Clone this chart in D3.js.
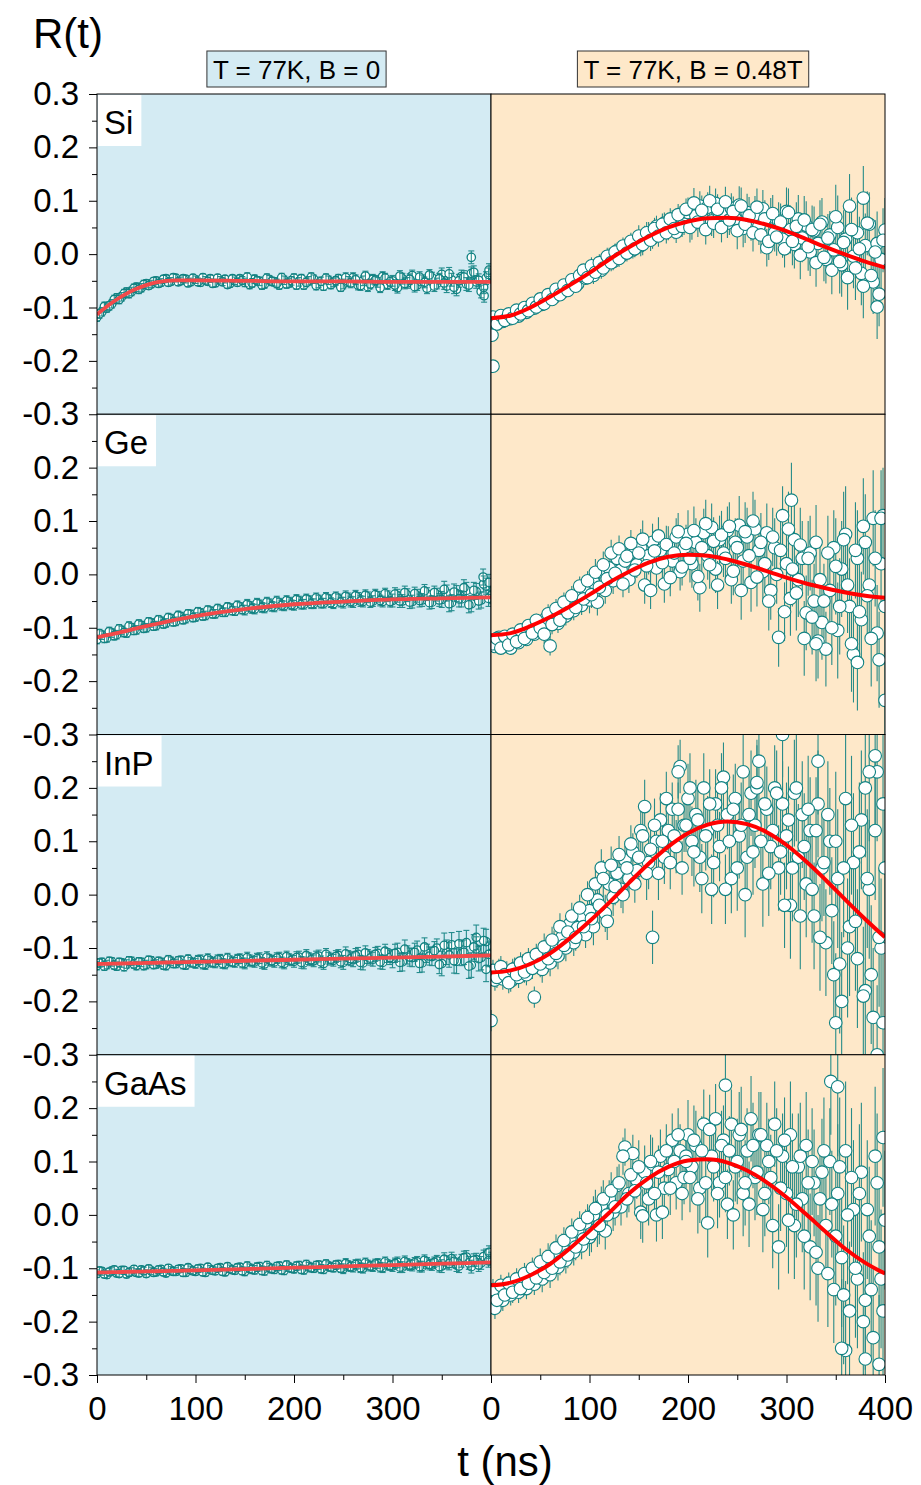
<!DOCTYPE html>
<html><head><meta charset="utf-8">
<script src="https://cdn.jsdelivr.net/npm/d3@7"></script>
<style>
body{margin:0;background:#fff}
text{font-family:"Liberation Sans",Arial,sans-serif;fill:#000}
</style>
</head><body>
<svg id="c" width="921" height="1485"></svg>
<script>
// ---------------- DATA ----------------
const samples = ["Si", "Ge", "InP", "GaAs"];
const panelTitles = ["T = 77K, B = 0", "T = 77K, B = 0.48T"];
const yTickVals = [0.3, 0.2, 0.1, 0.0, -0.1, -0.2, -0.3];
const xTickLeft = [0, 100, 200, 300];
const xTickRight = [0, 100, 200, 300, 400];

// time sampling of the data points (ns); second series is offset by half a step
const tStepLeft = 5;   // B = 0 panels
const tStepRight = 4;  // B = 0.48T panels

// ----- B = 0 (left) measured R(t), every 5 ns from 0 to 400 -----
const siA = [
-0.118,-0.108,-0.101,-0.093,-0.082,-0.080,-0.071,-0.070,-0.062,-0.063,
-0.055,-0.056,-0.050,-0.053,-0.046,-0.051,-0.045,-0.050,-0.047,-0.052,
-0.048,-0.053,-0.049,-0.046,-0.054,-0.049,-0.047,-0.055,-0.050,-0.046,
-0.053,-0.057,-0.047,-0.051,-0.056,-0.048,-0.052,-0.058,-0.049,-0.054,
-0.045,-0.052,-0.058,-0.050,-0.047,-0.055,-0.060,-0.049,-0.053,-0.046,
-0.056,-0.051,-0.044,-0.058,-0.050,-0.061,-0.047,-0.053,-0.042,-0.057,
-0.050,-0.063,-0.046,-0.054,-0.040,-0.058,-0.049,-0.064,-0.044,-0.055,
-0.038,-0.060,-0.048,-0.066,-0.042,-0.056,-0.036,-0.052,-0.070,-0.045,-0.040];
const siA2 = [
-0.112,-0.098,-0.097,-0.085,-0.085,-0.074,-0.074,-0.064,-0.066,-0.057,
-0.059,-0.051,-0.055,-0.047,-0.053,-0.044,-0.052,-0.046,-0.054,-0.045,
-0.052,-0.044,-0.051,-0.055,-0.045,-0.052,-0.057,-0.046,-0.053,-0.049,
-0.043,-0.054,-0.050,-0.058,-0.045,-0.051,-0.055,-0.044,-0.056,-0.050,
-0.058,-0.046,-0.053,-0.043,-0.059,-0.051,-0.045,-0.057,-0.050,-0.062,
-0.044,-0.054,-0.048,-0.059,-0.041,-0.056,-0.049,-0.063,-0.045,-0.052,
-0.058,-0.041,-0.055,-0.047,-0.061,-0.043,-0.053,-0.039,-0.060,-0.046,
-0.054,-0.037,-0.062,-0.050,-0.043,-0.058,-0.034,-0.049,-0.062,-0.038];
const geA = [
-0.122,-0.114,-0.119,-0.110,-0.113,-0.105,-0.110,-0.100,-0.104,-0.096,
-0.100,-0.091,-0.096,-0.088,-0.091,-0.083,-0.088,-0.079,-0.083,-0.075,
-0.080,-0.072,-0.077,-0.069,-0.074,-0.067,-0.071,-0.063,-0.069,-0.061,
-0.067,-0.060,-0.065,-0.057,-0.063,-0.055,-0.061,-0.054,-0.059,-0.052,
-0.058,-0.050,-0.056,-0.049,-0.055,-0.048,-0.054,-0.047,-0.055,-0.046,
-0.053,-0.045,-0.052,-0.044,-0.051,-0.043,-0.050,-0.042,-0.051,-0.041,
-0.049,-0.040,-0.050,-0.039,-0.051,-0.040,-0.048,-0.037,-0.052,-0.038,
-0.047,-0.035,-0.053,-0.036,-0.046,-0.030,-0.055,-0.032,-0.048,-0.022,-0.040];
const geA2 = [
-0.111,-0.120,-0.107,-0.115,-0.102,-0.109,-0.097,-0.105,-0.093,-0.101,
-0.089,-0.097,-0.085,-0.093,-0.081,-0.089,-0.077,-0.085,-0.074,-0.081,
-0.070,-0.078,-0.067,-0.074,-0.064,-0.071,-0.061,-0.068,-0.058,-0.066,
-0.056,-0.064,-0.054,-0.062,-0.052,-0.060,-0.050,-0.058,-0.049,-0.057,
-0.047,-0.056,-0.046,-0.055,-0.044,-0.054,-0.043,-0.053,-0.042,-0.052,
-0.041,-0.051,-0.040,-0.050,-0.039,-0.052,-0.038,-0.049,-0.036,-0.051,
-0.037,-0.050,-0.034,-0.052,-0.036,-0.049,-0.031,-0.053,-0.034,-0.048,
-0.028,-0.055,-0.033,-0.046,-0.025,-0.057,-0.030,-0.050,-0.018,-0.045];
const inpA = [
-0.133,-0.127,-0.131,-0.126,-0.134,-0.128,-0.130,-0.125,-0.133,-0.127,
-0.131,-0.124,-0.130,-0.127,-0.133,-0.125,-0.129,-0.123,-0.132,-0.126,
-0.129,-0.122,-0.131,-0.125,-0.128,-0.121,-0.130,-0.124,-0.127,-0.120,
-0.129,-0.123,-0.126,-0.119,-0.130,-0.122,-0.126,-0.118,-0.129,-0.121,
-0.125,-0.117,-0.128,-0.120,-0.124,-0.115,-0.129,-0.119,-0.123,-0.114,
-0.127,-0.118,-0.122,-0.112,-0.128,-0.116,-0.121,-0.110,-0.127,-0.114,
-0.120,-0.108,-0.126,-0.113,-0.118,-0.104,-0.128,-0.110,-0.116,-0.100,
-0.129,-0.108,-0.094,-0.125,-0.110,-0.090,-0.132,-0.102,-0.118,-0.088,-0.110];
const inpA2 = [
-0.128,-0.134,-0.125,-0.132,-0.127,-0.135,-0.124,-0.130,-0.126,-0.133,
-0.123,-0.131,-0.125,-0.132,-0.122,-0.129,-0.124,-0.131,-0.121,-0.128,
-0.123,-0.130,-0.120,-0.127,-0.122,-0.129,-0.119,-0.126,-0.121,-0.128,
-0.118,-0.125,-0.120,-0.128,-0.117,-0.124,-0.119,-0.127,-0.116,-0.123,
-0.118,-0.127,-0.114,-0.122,-0.117,-0.126,-0.112,-0.121,-0.116,-0.126,
-0.111,-0.120,-0.114,-0.127,-0.109,-0.119,-0.112,-0.126,-0.106,-0.118,
-0.110,-0.127,-0.102,-0.117,-0.108,-0.129,-0.098,-0.115,-0.105,-0.131,
-0.095,-0.113,-0.124,-0.092,-0.108,-0.134,-0.098,-0.120,-0.086,-0.112];
const gaasA = [
-0.110,-0.106,-0.112,-0.105,-0.109,-0.104,-0.111,-0.106,-0.108,-0.103,
-0.110,-0.105,-0.107,-0.102,-0.109,-0.104,-0.106,-0.101,-0.108,-0.103,
-0.106,-0.100,-0.108,-0.102,-0.105,-0.099,-0.107,-0.101,-0.104,-0.098,
-0.106,-0.100,-0.103,-0.097,-0.105,-0.099,-0.102,-0.096,-0.104,-0.098,
-0.101,-0.095,-0.103,-0.097,-0.100,-0.094,-0.102,-0.096,-0.099,-0.093,
-0.101,-0.095,-0.098,-0.092,-0.100,-0.094,-0.097,-0.091,-0.099,-0.093,
-0.096,-0.089,-0.098,-0.092,-0.095,-0.088,-0.097,-0.090,-0.094,-0.086,
-0.096,-0.089,-0.082,-0.094,-0.086,-0.079,-0.097,-0.084,-0.090,-0.076,-0.082];
const gaasA2 = [
-0.105,-0.111,-0.107,-0.103,-0.110,-0.104,-0.108,-0.102,-0.109,-0.105,
-0.101,-0.108,-0.103,-0.107,-0.100,-0.106,-0.102,-0.108,-0.099,-0.105,
-0.101,-0.107,-0.098,-0.104,-0.100,-0.106,-0.097,-0.103,-0.099,-0.105,
-0.096,-0.102,-0.098,-0.104,-0.095,-0.101,-0.097,-0.103,-0.094,-0.100,
-0.096,-0.102,-0.093,-0.099,-0.095,-0.101,-0.092,-0.098,-0.094,-0.100,
-0.091,-0.097,-0.093,-0.099,-0.090,-0.096,-0.092,-0.098,-0.088,-0.095,
-0.091,-0.098,-0.087,-0.094,-0.090,-0.097,-0.085,-0.093,-0.089,-0.097,
-0.083,-0.091,-0.087,-0.096,-0.080,-0.090,-0.085,-0.094,-0.078,-0.086];

// ----- B = 0.48T (right) measured R(t), every 4 ns from 0 to 400 -----
const siB = [
-0.125,-0.128,-0.122,-0.126,-0.118,-0.121,-0.113,-0.116,-0.104,-0.109,
-0.097,-0.101,-0.090,-0.094,-0.086,-0.077,-0.081,-0.068,-0.072,-0.060,
-0.063,-0.050,-0.056,-0.038,-0.045,-0.032,-0.040,-0.021,-0.030,-0.012,
-0.004,-0.014,0.006,-0.004,0.012,0.018,0.008,0.025,0.016,0.033,
0.040,0.030,0.052,0.044,0.058,0.046,0.062,0.041,0.070,0.056,
0.078,0.055,0.072,0.090,0.064,0.088,0.062,0.095,0.074,0.080,
0.058,0.086,0.066,0.092,0.048,0.078,0.060,0.074,0.052,0.085,
0.012,0.070,0.040,0.062,0.028,0.080,0.046,0.018,0.066,0.030,
0.054,0.004,0.044,0.020,0.060,-0.010,0.036,0.008,0.050,-0.020,
0.028,0.090,-0.004,0.040,-0.036,0.016,0.056,-0.052,0.020,-0.010,0.045];
const siB2 = [
-0.118,-0.131,-0.115,-0.124,-0.112,-0.120,-0.105,-0.112,-0.100,-0.106,
-0.092,-0.099,-0.084,-0.093,-0.076,-0.085,-0.066,-0.076,-0.058,-0.068,
-0.048,-0.060,-0.040,-0.030,-0.044,-0.022,-0.034,-0.016,-0.026,-0.004,
-0.016,0.004,-0.008,0.015,0.002,0.024,0.010,0.034,0.018,0.040,
0.026,0.048,0.034,0.056,0.040,0.066,0.048,0.074,0.052,0.084,
0.050,0.096,0.060,0.082,0.046,0.100,0.058,0.084,0.050,0.098,
0.064,0.080,0.044,0.090,0.056,0.072,0.040,0.088,0.036,0.066,
0.024,0.076,0.032,0.060,0.010,0.078,0.024,0.052,-0.002,0.064,
0.014,0.046,-0.016,0.056,-0.006,0.030,-0.030,0.070,-0.014,0.022,
-0.044,0.046,-0.026,0.010,-0.060,0.058,-0.040,0.004,-0.075,0.026];
const geB = [
-0.125,-0.135,-0.118,-0.130,-0.122,-0.138,-0.115,-0.128,-0.108,-0.122,
-0.100,-0.112,-0.090,-0.105,-0.082,-0.134,-0.075,-0.092,-0.062,-0.078,
-0.050,-0.068,-0.040,-0.058,-0.030,-0.048,-0.015,-0.052,0.005,-0.030,
0.012,-0.012,0.030,0.008,0.025,-0.010,0.042,0.018,0.050,-0.020,
0.035,0.060,0.012,0.045,-0.018,0.055,0.025,0.070,0.005,0.048,
0.075,0.020,0.060,-0.025,0.078,0.035,0.088,0.010,0.065,0.040,
0.082,-0.010,0.060,0.092,0.025,0.070,-0.015,0.085,0.045,0.005,
0.078,-0.030,0.050,-0.118,0.110,0.020,-0.045,0.065,-0.010,0.030,
-0.072,0.040,-0.050,-0.125,-0.090,-0.140,-0.030,0.050,-0.105,0.010,
0.075,-0.060,-0.150,0.030,-0.085,0.060,-0.020,0.105,-0.110,0.020,-0.060];
const geB2 = [
-0.130,-0.120,-0.138,-0.116,-0.132,-0.112,-0.126,-0.104,-0.120,-0.096,
-0.110,-0.086,-0.100,-0.112,-0.074,-0.094,-0.064,-0.086,-0.052,-0.072,
-0.040,-0.062,-0.022,-0.046,-0.012,-0.038,0.004,-0.024,0.018,-0.008,
0.040,0.002,0.048,-0.018,0.034,0.058,0.008,0.040,0.066,0.016,
-0.030,0.044,0.072,0.022,0.056,-0.006,0.040,0.080,0.014,0.058,
0.030,0.082,-0.004,0.050,0.095,0.018,0.062,-0.020,0.074,0.030,
0.090,0.006,0.050,-0.030,0.080,0.035,0.100,-0.005,0.060,0.020,
-0.050,0.070,0.000,0.045,-0.070,0.085,0.010,-0.035,0.055,-0.120,
0.030,-0.080,0.060,-0.010,-0.050,0.040,-0.100,0.015,-0.060,0.065,
-0.020,-0.130,0.045,-0.070,0.090,-0.040,-0.120,0.030,-0.160,0.110];
const inpB = [
-0.150,-0.160,-0.140,-0.158,-0.145,-0.162,-0.138,-0.155,-0.132,-0.150,
-0.125,-0.192,-0.118,-0.140,-0.105,-0.128,-0.092,-0.115,-0.080,-0.100,
-0.055,-0.090,-0.062,-0.040,-0.075,-0.030,-0.060,-0.010,0.050,-0.035,
0.020,-0.005,0.040,0.010,0.065,0.030,0.080,0.045,0.120,0.165,
0.060,-0.080,0.100,0.140,0.070,0.120,0.160,0.090,0.240,0.130,
0.180,0.100,0.150,0.070,0.200,0.120,0.010,0.170,0.090,0.220,
0.150,0.030,0.180,0.110,0.230,0.070,0.190,0.130,0.250,0.020,
0.160,0.090,0.200,0.050,0.170,0.110,-0.020,0.190,0.070,0.150,
0.020,0.120,-0.040,0.170,0.050,-0.090,0.100,-0.150,0.030,-0.200,
0.180,-0.060,0.060,-0.120,0.140,-0.180,0.010,-0.230,0.230,-0.100,0.050];
const inpB2 = [
-0.142,-0.155,-0.135,-0.150,-0.165,-0.140,-0.150,-0.128,-0.145,-0.120,
-0.138,-0.112,-0.130,-0.098,-0.120,-0.085,-0.110,-0.060,-0.095,-0.070,
-0.040,-0.080,-0.025,-0.060,0.000,-0.045,0.020,-0.020,0.030,-0.050,
0.055,0.015,0.075,0.000,0.050,0.095,0.020,0.070,0.110,0.040,
0.085,0.130,0.040,0.100,0.180,0.060,0.110,0.160,0.050,0.130,
0.200,0.080,0.140,0.030,0.110,0.170,0.060,0.130,0.200,0.010,
0.100,0.160,0.050,0.130,0.000,0.150,0.080,0.200,0.100,0.170,
0.040,0.120,0.190,0.080,-0.020,0.140,0.050,0.200,-0.040,0.090,
0.160,0.010,0.120,-0.080,0.060,0.150,-0.030,0.100,-0.130,0.050,
-0.100,0.130,-0.050,0.080,-0.190,0.030,-0.150,0.120,-0.080,0.170];
const gaasB = [
-0.150,-0.175,-0.140,-0.160,-0.135,-0.150,-0.128,-0.145,-0.120,-0.138,
-0.112,-0.130,-0.100,-0.120,-0.090,-0.112,-0.075,-0.098,-0.060,-0.085,
-0.045,-0.070,-0.030,-0.058,-0.015,-0.042,0.000,-0.025,0.018,-0.030,
0.030,0.005,0.055,0.015,0.127,0.040,0.115,0.065,0.005,0.080,
0.030,0.095,0.000,0.110,0.050,0.085,0.140,0.060,0.120,0.070,
0.150,0.090,0.130,0.050,0.170,-0.015,0.110,0.180,0.060,0.140,
0.020,0.170,0.090,0.150,0.040,0.120,0.180,0.070,0.150,0.010,
0.130,0.070,0.170,-0.060,0.110,0.040,0.150,-0.020,0.090,0.030,
0.130,-0.060,0.060,-0.100,0.080,-0.020,0.100,-0.140,0.040,-0.080,
0.120,-0.180,0.010,-0.120,0.080,-0.160,-0.040,-0.230,0.060,-0.120,-0.010];
const gaasB2 = [
-0.140,-0.160,-0.132,-0.150,-0.128,-0.145,-0.120,-0.138,-0.110,-0.128,
-0.100,-0.118,-0.088,-0.108,-0.078,-0.100,-0.062,-0.088,-0.048,-0.075,
-0.032,-0.060,-0.018,-0.045,-0.005,-0.035,0.012,-0.020,0.030,0.000,
0.045,0.015,0.060,0.110,0.030,0.075,0.045,0.090,-0.002,0.060,
0.100,0.040,0.080,0.005,0.120,0.050,0.100,0.150,0.040,0.110,
0.070,0.140,0.030,0.120,0.060,0.160,0.090,0.040,0.130,0.070,
0.120,0.000,0.100,0.160,0.060,0.020,0.130,0.080,0.150,0.040,
0.100,-0.020,0.120,0.050,0.140,-0.010,0.090,0.020,0.110,-0.040,
0.060,0.100,-0.070,0.030,0.120,-0.110,0.020,-0.040,0.090,-0.150,
0.000,0.070,-0.100,0.040,-0.200,0.010,-0.140,0.110,-0.060,-0.180];

// extra scattered points [t, R]
const siAExtra = [[380,-0.006],[393,-0.078],[398,-0.030]];
const geAExtra = [[392,-0.005],[398,-0.015]];
const inpAExtra = [[385,-0.080],[395,-0.140]];
const gaasAExtra = [[398,-0.070]];
const siBExtra = [[2,-0.210],[1,-0.152],[378,0.105],[392,-0.099]];
const geBExtra = [[400,-0.236],[396,0.105],[305,0.139],[330,-0.130],[372,-0.165]];
const inpBExtra = [[0,-0.236],[190,0.230],[296,0.300],[332,0.250],[350,-0.240],[392,-0.300],[398,-0.240],[390,0.260],[384,0.230],[270,0.210],[380,0.200]];
const gaasBExtra = [[238,0.243],[345,0.250],[352,0.240],[360,-0.254],[356,-0.250],[380,-0.270],[394,-0.280],[398,0.145],[198,0.100]];

// error bar half-widths per 50 ns bin
const siAErr = [0.008,0.007,0.007,0.008,0.008,0.009,0.010,0.012];
const geAErr = [0.008,0.008,0.008,0.009,0.009,0.010,0.012,0.015];
const inpAErr = [0.008,0.008,0.009,0.010,0.011,0.013,0.017,0.023];
const gaasAErr = [0.007,0.007,0.007,0.008,0.008,0.009,0.010,0.012];
const siBErr = [0.008,0.012,0.016,0.020,0.028,0.035,0.045,0.060];
const geBErr = [0.012,0.018,0.025,0.035,0.045,0.055,0.070,0.090];
const inpBErr = [0.020,0.025,0.035,0.050,0.065,0.080,0.100,0.130];
const gaasBErr = [0.020,0.025,0.035,0.050,0.065,0.080,0.100,0.130];

// fit curves (red)
const fitTLeft = [0,10,20,30,40,50,60,70,80,100,150,200,250,300,350,400];
const siFitA = [-0.113,-0.098,-0.085,-0.074,-0.065,-0.058,-0.053,-0.050,-0.049,-0.049,-0.050,-0.051,-0.051,-0.052,-0.052,-0.052];
const geFitA = [-0.118,-0.114,-0.110,-0.106,-0.101,-0.097,-0.093,-0.089,-0.085,-0.078,-0.065,-0.056,-0.051,-0.047,-0.045,-0.043];
const inpFitA = [-0.130,-0.1296,-0.1292,-0.1288,-0.1284,-0.128,-0.1276,-0.1272,-0.1268,-0.126,-0.124,-0.122,-0.120,-0.118,-0.116,-0.114];
const gaasFitA = [-0.108,-0.1076,-0.1072,-0.1068,-0.1064,-0.106,-0.1056,-0.1052,-0.1048,-0.104,-0.1015,-0.099,-0.0965,-0.094,-0.0915,-0.089];
const fitTRight = [0,20,40,60,80,100,120,140,160,180,200,220,240,260,280,300,320,340,360,380,400];
const siFitB = [-0.120,-0.115,-0.100,-0.080,-0.058,-0.035,-0.010,0.013,0.033,0.050,0.061,0.067,0.068,0.064,0.055,0.043,0.028,0.013,-0.001,-0.014,-0.025];
const geFitB = [-0.114,-0.110,-0.097,-0.080,-0.060,-0.038,-0.015,0.005,0.022,0.033,0.037,0.035,0.028,0.018,0.006,-0.006,-0.017,-0.026,-0.034,-0.040,-0.044];
const inpFitB = [-0.146,-0.142,-0.130,-0.110,-0.082,-0.050,-0.015,0.022,0.058,0.090,0.115,0.131,0.137,0.132,0.117,0.093,0.062,0.027,-0.010,-0.046,-0.080];
const gaasFitB = [-0.132,-0.127,-0.113,-0.092,-0.063,-0.030,0.004,0.040,0.069,0.090,0.102,0.104,0.098,0.083,0.061,0.033,0.001,-0.032,-0.064,-0.090,-0.110];

// ---------------- DRAWING ----------------
const svg = d3.select('#c');
const X0 = 97, XM = 491, X1 = 885, Y0 = 94, Y1 = 1375;
const rowH = (Y1 - Y0) / 4;
const BG_L = "#d4ebf3", BG_R = "#fee8c9", TEAL = "#118282";
const FONT = '"Liberation Sans",Arial,sans-serif';

const xL = d3.scaleLinear().domain([0, 400]).range([X0, XM]);
const xR = d3.scaleLinear().domain([0, 400]).range([XM, X1]);

const leftSets = [
  {v: siA, v2: siA2, extra: siAExtra, err: siAErr, fit: siFitA},
  {v: geA, v2: geA2, extra: geAExtra, err: geAErr, fit: geFitA},
  {v: inpA, v2: inpA2, extra: inpAExtra, err: inpAErr, fit: inpFitA},
  {v: gaasA, v2: gaasA2, extra: gaasAExtra, err: gaasAErr, fit: gaasFitA}];
const rightSets = [
  {v: siB, v2: siB2, extra: siBExtra, err: siBErr, fit: siFitB},
  {v: geB, v2: geB2, extra: geBExtra, err: geBErr, fit: geFitB},
  {v: inpB, v2: inpB2, extra: inpBExtra, err: inpBErr, fit: inpFitB},
  {v: gaasB, v2: gaasB2, extra: gaasBExtra, err: gaasBErr, fit: gaasFitB}];

const fmt = v => (Math.abs(v) < 1e-9 ? "0.0" : v.toFixed(1));

function drawPanel(row, side) {
  const top = Y0 + row * rowH;
  const y = d3.scaleLinear().domain([-0.3, 0.3]).range([top + rowH, top]);
  const x = side === 0 ? xL : xR;
  const set = side === 0 ? leftSets[row] : rightSets[row];
  const step = side === 0 ? tStepLeft : tStepRight;
  const r = side === 0 ? 4.2 : 6.3;
  const px0 = x.range()[0], px1 = x.range()[1];
  const id = `clip${row}_${side}`;
  svg.append("clipPath").attr("id", id).append("rect")
    .attr("x", px0).attr("y", top).attr("width", px1 - px0).attr("height", rowH);
  svg.append("rect").attr("x", px0).attr("y", top).attr("width", px1 - px0).attr("height", rowH)
    .attr("fill", side === 0 ? BG_L : BG_R);

  const pts = set.v.map((v, i) => [i * step, v])
    .concat(set.v2.map((v, i) => [i * step + step / 2, v]))
    .concat(set.extra);
  const errOf = t => set.err[Math.min(set.err.length - 1, Math.floor(t / 50))];
  const g = svg.append("g").attr("clip-path", `url(#${id})`);

  const drawErr = () => {
    const eb = g.append("g").attr("stroke", TEAL).attr("stroke-width", 1.1).attr("opacity", 0.9);
    pts.forEach(([t, v]) => {
      const e = errOf(t);
      eb.append("line").attr("x1", x(t)).attr("x2", x(t)).attr("y1", y(v - e)).attr("y2", y(v + e));
      if (side === 0) {
        eb.append("line").attr("x1", x(t) - 3).attr("x2", x(t) + 3).attr("y1", y(v - e)).attr("y2", y(v - e));
        eb.append("line").attr("x1", x(t) - 3).attr("x2", x(t) + 3).attr("y1", y(v + e)).attr("y2", y(v + e));
      }
    });
  };
  if (side === 1) drawErr();
  g.append("g").selectAll("circle").data(pts).join("circle")
    .attr("cx", d => x(d[0])).attr("cy", d => y(d[1])).attr("r", r)
    .attr("fill", "#ffffff").attr("stroke", TEAL).attr("stroke-width", side === 0 ? 1.3 : 1.1);
  if (side === 0) drawErr();

  const fitT = side === 0 ? fitTLeft : fitTRight;
  const line = d3.line().x((d, i) => x(fitT[i])).y(d => y(d)).curve(d3.curveMonotoneX);
  g.append("path").attr("d", line(set.fit)).attr("fill", "none")
    .attr("stroke", side === 0 ? "#f24a4a" : "#ff0000").attr("stroke-width", side === 0 ? 3.8 : 4);

  svg.append("rect").attr("x", px0).attr("y", top).attr("width", px1 - px0).attr("height", rowH)
    .attr("fill", "none").attr("stroke", "#000").attr("stroke-width", 1);

  if (side === 0) {
    const vals = row === 0 ? yTickVals : yTickVals.slice(1);
    const ax = svg.append("g").attr("transform", `translate(${X0},0)`)
      .call(d3.axisLeft(y).tickValues(vals).tickFormat(fmt).tickSize(8).tickPadding(10));
    ax.select(".domain").remove();
    ax.selectAll("line").attr("stroke", "#000");
    ax.selectAll("text").style("font-size", "33px").style("font-family", FONT).attr("fill", "#000");
    const minor = svg.append("g").attr("transform", `translate(${X0},0)`)
      .call(d3.axisLeft(y).tickValues([0.25, 0.15, 0.05, -0.05, -0.15, -0.25]).tickFormat("").tickSize(5));
    minor.select(".domain").remove();
    minor.selectAll("line").attr("stroke", "#000");
    const lbl = svg.append("g");
    const tx = lbl.append("text").attr("x", X0 + 7).attr("y", top + 40).text(samples[row])
      .style("font-size", "33px");
    const bb = tx.node().getBBox();
    lbl.insert("rect", "text").attr("x", X0 + 1).attr("y", top + 1)
      .attr("width", bb.width + 14).attr("height", 51).attr("fill", "#fff");
  }
}

for (let row = 0; row < 4; row++) { drawPanel(row, 0); drawPanel(row, 1); }

[[xL, xTickLeft], [xR, xTickRight]].forEach(([x, ticks]) => {
  const ax = svg.append("g").attr("transform", `translate(0,${Y1})`)
    .call(d3.axisBottom(x).tickValues(ticks).tickSize(8).tickPadding(14));
  ax.select(".domain").remove();
  ax.selectAll("line").attr("stroke", "#000");
  ax.selectAll("text").style("font-size", "33px").style("font-family", FONT).attr("fill", "#000");
  const mn = svg.append("g").attr("transform", `translate(0,${Y1})`)
    .call(d3.axisBottom(x).tickValues([50, 150, 250, 350]).tickFormat("").tickSize(5));
  mn.select(".domain").remove();
  mn.selectAll("line").attr("stroke", "#000");
});

const titleBoxes = [{cx: (204 + 389) / 2, fill: BG_L}, {cx: (574 + 812) / 2, fill: BG_R}];
titleBoxes.forEach((b, i) => {
  const g = svg.append("g");
  const t = g.append("text").attr("x", b.cx).attr("y", 79).attr("text-anchor", "middle")
    .style("font-size", "26px").text(panelTitles[i]);
  const bb = t.node().getBBox();
  g.insert("rect", "text").attr("x", bb.x - 6).attr("y", 51).attr("width", bb.width + 12).attr("height", 36)
    .attr("fill", b.fill).attr("stroke", "#333").attr("stroke-width", 1);
});

svg.append("text").attr("x", 33).attr("y", 48).style("font-size", "42px").text("R(t)");
svg.append("text").attr("x", 505).attr("y", 1476).attr("text-anchor", "middle").style("font-size", "42px").text("t (ns)");
</script>
</body></html>
